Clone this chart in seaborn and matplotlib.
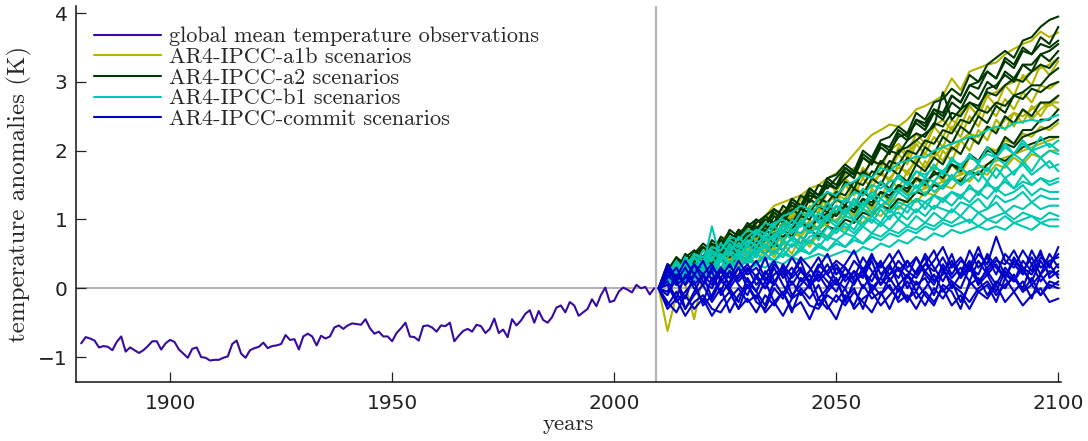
import numpy as np
import pandas as pd
import matplotlib
matplotlib.use("Agg")
import matplotlib.pyplot as plt
from matplotlib.lines import Line2D
import seaborn as sns

# ---------------- data ----------------
obs_years = list(range(1880, 2010))
obs_values = [
    -0.80, -0.71, -0.73, -0.76, -0.86, -0.84, -0.85, -0.90, -0.78, -0.70,
    -0.92, -0.86, -0.90, -0.94, -0.90, -0.84, -0.77, -0.77, -0.89, -0.80,
    -0.75, -0.78, -0.89, -0.95, -1.01, -0.88, -0.86, -1.00, -1.01, -1.05,
    -1.04, -1.04, -1.01, -0.99, -0.81, -0.76, -0.95, -1.01, -0.90, -0.87,
    -0.85, -0.79, -0.87, -0.84, -0.83, -0.81, -0.68, -0.75, -0.74, -0.89,
    -0.70, -0.66, -0.70, -0.83, -0.69, -0.73, -0.70, -0.57, -0.54, -0.59,
    -0.54, -0.51, -0.52, -0.53, -0.45, -0.58, -0.66, -0.63, -0.70, -0.70,
    -0.77, -0.65, -0.58, -0.50, -0.70, -0.71, -0.76, -0.55, -0.54, -0.57,
    -0.63, -0.54, -0.55, -0.50, -0.77, -0.69, -0.62, -0.59, -0.63, -0.53,
    -0.55, -0.65, -0.59, -0.44, -0.65, -0.60, -0.71, -0.45, -0.54, -0.47,
    -0.37, -0.32, -0.50, -0.33, -0.46, -0.50, -0.42, -0.28, -0.25, -0.35,
    -0.20, -0.25, -0.40, -0.35, -0.30, -0.16, -0.26, -0.10, 0.01, -0.20,
    -0.18, -0.05, 0.01, -0.02, -0.06, 0.05, 0.00, 0.02, -0.09, 0.00,
]

scen_years = list(range(2010, 2101, 2))

a1b_runs = [
    [0.00, 0.15, 0.30, 0.25, 0.35, 0.40, 0.50, 0.55, 0.65, 0.80,
     0.85, 0.95, 1.05, 1.20, 1.25, 1.30, 1.35, 1.45, 1.50, 1.60,
     1.67, 1.80, 1.95, 2.10, 2.23, 2.30, 2.38, 2.35, 2.45, 2.60,
     2.65, 2.72, 2.80, 3.05, 2.88, 3.15, 3.20, 3.25, 3.28, 3.40,
     3.48, 3.55, 3.60, 3.73, 3.65, 3.72],
    [0.00, -0.62, -0.10, 0.20, 0.15, 0.35, 0.30, 0.55, 0.40, 0.60,
     0.50, 0.80, 0.70, 0.90, 0.80, 1.10, 0.95, 1.20, 1.10, 1.40,
     1.25, 1.50, 1.40, 1.75, 1.60, 1.85, 1.75, 2.05, 1.90, 2.15,
     2.05, 2.35, 2.20, 2.45, 2.35, 2.65, 2.50, 2.80, 2.65, 2.95,
     2.80, 3.10, 2.95, 3.25, 3.10, 3.30],
    [0.00, 0.10, 0.25, 0.05, -0.45, 0.20, 0.40, 0.25, 0.50, 0.35,
     0.60, 0.45, 0.70, 0.55, 0.85, 0.70, 0.95, 0.80, 1.05, 0.90,
     1.20, 1.05, 1.30, 1.15, 1.45, 1.30, 1.60, 1.45, 1.70, 1.55,
     1.85, 1.70, 2.00, 1.85, 2.15, 2.00, 2.30, 2.15, 2.45, 2.30,
     2.55, 2.40, 2.65, 2.50, 2.70, 2.60],
    [0.00, 0.25, 0.45, 0.25, 0.55, 0.40, 0.65, 0.50, 0.75, 0.60,
     0.85, 0.70, 0.95, 0.80, 1.10, 0.95, 1.20, 1.05, 1.35, 1.20,
     1.45, 1.60, 1.45, 1.75, 1.60, 1.85, 1.70, 1.95, 1.80, 2.10,
     1.95, 2.20, 2.05, 2.35, 2.20, 2.50, 2.35, 2.65, 2.50, 2.75,
     2.60, 2.85, 2.70, 2.95, 2.90, 3.00],
    [0.00, 0.20, 0.10, 0.30, 0.20, 0.45, 0.30, 0.55, 0.40, 0.60,
     0.45, 0.70, 0.55, 0.80, 0.65, 0.90, 0.75, 1.00, 0.85, 1.10,
     0.95, 1.20, 1.05, 1.30, 1.15, 1.40, 1.25, 1.50, 1.35, 1.60,
     1.45, 1.70, 1.55, 1.80, 1.65, 1.90, 1.85, 2.05, 2.00, 2.15,
     2.10, 2.25, 2.20, 2.35, 2.30, 2.40],
    [0.00, 0.10, 0.30, 0.10, 0.35, 0.15, 0.40, 0.25, 0.45, 0.30,
     0.50, 0.35, 0.60, 0.45, 0.65, 0.50, 0.75, 0.60, 0.80, 0.75,
     0.90, 0.85, 1.00, 0.95, 1.10, 1.05, 1.20, 1.15, 1.30, 1.25,
     1.40, 1.35, 1.50, 1.45, 1.60, 1.55, 1.70, 1.65, 1.80, 1.75,
     1.90, 1.80, 1.95, 1.90, 2.00, 2.00],
    [0.00, 0.30, 0.15, 0.45, 0.30, 0.60, 0.45, 0.70, 0.80, 0.65,
     0.90, 0.75, 1.00, 1.10, 0.95, 1.20, 1.05, 1.30, 1.15, 1.40,
     1.25, 1.50, 1.35, 1.60, 1.45, 1.70, 1.55, 1.80, 1.65, 1.90,
     1.75, 2.00, 1.85, 2.10, 2.15, 2.25, 2.10, 2.35, 2.30, 2.50,
     2.35, 2.60, 2.45, 2.60, 2.70, 2.70],
    [0.00, 0.15, 0.40, 0.20, 0.50, 0.35, 0.60, 0.70, 0.55, 0.80,
     0.90, 0.75, 1.00, 1.10, 1.15, 1.00, 1.30, 1.40, 1.25, 1.55,
     1.40, 1.65, 1.75, 1.60, 1.90, 1.75, 2.00, 2.10, 1.95, 2.25,
     2.10, 2.35, 2.45, 2.30, 2.55, 2.65, 2.50, 2.80, 2.85, 2.95,
     3.00, 3.05, 3.15, 3.20, 3.25, 3.35],
    [0.00, 0.20, 0.05, 0.35, 0.25, 0.45, 0.40, 0.55, 0.65, 0.60,
     0.75, 0.70, 0.85, 0.95, 0.90, 1.05, 1.00, 1.15, 1.10, 1.25,
     1.35, 1.30, 1.45, 1.40, 1.55, 1.65, 1.60, 1.75, 1.70, 1.85,
     1.95, 1.90, 2.05, 2.00, 2.15, 2.25, 2.20, 2.35, 2.30, 2.45,
     2.55, 2.50, 2.60, 2.70, 2.65, 2.80],
    [0.00, 0.15, 0.30, 0.20, 0.40, 0.30, 0.50, 0.40, 0.55, 0.50,
     0.60, 0.55, 0.70, 0.65, 0.75, 0.80, 0.75, 0.90, 0.85, 0.95,
     1.00, 1.05, 1.00, 1.15, 1.10, 1.20, 1.25, 1.30, 1.25, 1.40,
     1.45, 1.50, 1.55, 1.60, 1.65, 1.70, 1.75, 1.80, 1.85, 1.90,
     1.95, 2.00, 2.05, 2.10, 2.15, 2.20],
]

a2_runs = [
    [0.00, 0.20, 0.40, 0.30, 0.55, 0.45, 0.65, 0.55, 0.80, 0.70,
     0.90, 1.00, 0.90, 1.15, 1.05, 1.30, 1.20, 1.45, 1.35, 1.60,
     1.65, 1.80, 1.70, 2.00, 1.90, 2.15, 2.20, 2.35, 2.25, 2.55,
     2.45, 2.70, 2.75, 2.90, 2.80, 3.10, 3.00, 3.25, 3.35, 3.45,
     3.35, 3.60, 3.65, 3.80, 3.90, 3.95],
    [0.00, 0.35, 0.25, 0.50, 0.40, 0.60, 0.50, 0.75, 0.65, 0.85,
     0.75, 1.00, 0.90, 1.10, 1.00, 1.25, 1.15, 1.40, 1.30, 1.55,
     1.45, 1.70, 1.60, 1.90, 1.80, 2.05, 1.95, 2.25, 2.15, 2.45,
     2.35, 2.60, 2.50, 2.80, 2.70, 2.95, 3.00, 3.15, 3.05, 3.35,
     3.25, 3.50, 3.40, 3.65, 3.55, 3.80],
    [0.00, 0.25, 0.45, 0.35, 0.50, 0.60, 0.50, 0.70, 0.60, 0.80,
     0.70, 0.90, 0.80, 1.05, 0.95, 1.15, 1.05, 1.30, 1.20, 1.40,
     1.30, 1.55, 1.45, 1.70, 1.60, 1.85, 1.75, 2.00, 2.05, 2.15,
     2.25, 2.35, 2.85, 2.45, 2.60, 2.70, 2.60, 2.90, 2.95, 3.10,
     3.00, 3.25, 3.15, 3.40, 3.45, 3.55],
    [0.00, 0.15, 0.35, 0.25, 0.45, 0.35, 0.55, 0.45, 0.65, 0.55,
     0.75, 0.65, 0.85, 0.75, 0.95, 0.85, 1.05, 1.00, 1.20, 1.10,
     1.30, 1.20, 1.45, 1.35, 1.60, 1.50, 1.75, 1.65, 1.90, 1.80,
     2.05, 1.95, 2.20, 2.10, 2.35, 2.25, 2.50, 2.40, 2.65, 2.55,
     2.80, 2.85, 2.95, 2.95, 3.10, 3.20],
    [0.00, 0.20, 0.10, 0.35, 0.25, 0.45, 0.35, 0.60, 0.50, 0.70,
     0.60, 0.80, 0.70, 0.90, 0.80, 1.00, 0.90, 1.10, 1.00, 1.20,
     1.10, 1.30, 1.20, 1.40, 1.30, 1.55, 1.45, 1.65, 1.55, 1.80,
     1.70, 1.90, 1.80, 2.05, 1.95, 2.20, 2.10, 2.35, 2.25, 2.50,
     2.40, 2.60, 2.50, 2.70, 2.70, 2.80],
    [0.00, 0.10, 0.30, 0.20, 0.40, 0.30, 0.50, 0.40, 0.60, 0.50,
     0.65, 0.55, 0.75, 0.65, 0.85, 0.75, 0.95, 0.85, 1.05, 0.95,
     1.10, 1.20, 1.10, 1.30, 1.20, 1.40, 1.30, 1.50, 1.40, 1.60,
     1.50, 1.70, 1.60, 1.80, 1.70, 1.95, 1.85, 2.05, 1.95, 2.20,
     2.10, 2.30, 2.30, 2.45, 2.45, 2.60],
    [0.00, 0.15, 0.05, 0.25, 0.15, 0.35, 0.25, 0.45, 0.30, 0.50,
     0.40, 0.60, 0.50, 0.65, 0.55, 0.75, 0.65, 0.85, 0.75, 0.90,
     0.85, 1.00, 0.95, 1.10, 1.05, 1.20, 1.15, 1.30, 1.25, 1.40,
     1.35, 1.50, 1.45, 1.60, 1.55, 1.70, 1.65, 1.80, 1.90, 1.85,
     1.95, 2.05, 2.10, 2.15, 2.20, 2.20],
    [0.00, 0.35, 0.25, 0.45, 0.55, 0.45, 0.70, 0.60, 0.85, 0.75,
     0.95, 0.85, 1.05, 1.15, 1.05, 1.30, 1.20, 1.45, 1.35, 1.60,
     1.50, 1.75, 1.65, 1.90, 1.80, 2.10, 2.00, 2.20, 2.25, 2.40,
     2.30, 2.55, 2.45, 2.70, 2.60, 2.85, 2.75, 3.00, 2.90, 3.15,
     3.05, 3.25, 3.25, 3.40, 3.30, 3.45],
    [0.00, 0.30, 0.15, 0.40, 0.50, 0.40, 0.60, 0.70, 0.60, 0.85,
     0.75, 0.95, 1.05, 0.95, 1.20, 1.10, 1.35, 1.25, 1.50, 1.45,
     1.60, 1.75, 1.65, 1.95, 1.85, 2.10, 2.05, 2.30, 2.20, 2.45,
     2.40, 2.60, 2.55, 2.80, 2.70, 2.95, 2.90, 3.15, 3.05, 3.30,
     3.20, 3.45, 3.40, 3.55, 3.50, 3.60],
    [0.00, 0.20, 0.35, 0.25, 0.45, 0.40, 0.55, 0.50, 0.70, 0.60,
     0.80, 0.75, 0.90, 0.85, 1.05, 0.95, 1.15, 1.10, 1.30, 1.25,
     1.40, 1.35, 1.55, 1.50, 1.70, 1.65, 1.85, 1.80, 2.00, 1.95,
     2.15, 2.10, 2.30, 2.25, 2.45, 2.40, 2.60, 2.55, 2.70, 2.65,
     2.80, 2.75, 2.90, 2.85, 2.95, 3.00],
    [0.00, 0.25, 0.45, 0.30, 0.50, 0.65, 0.55, 0.70, 0.65, 0.80,
     0.90, 0.85, 1.00, 0.95, 1.10, 1.20, 1.15, 1.35, 1.30, 1.50,
     1.45, 1.60, 1.70, 1.65, 1.85, 1.80, 2.00, 1.95, 2.15, 2.25,
     2.20, 2.40, 2.35, 2.55, 2.50, 2.70, 2.65, 2.85, 2.80, 2.95,
     3.05, 3.00, 3.15, 3.25, 3.20, 3.35],
    [0.00, 0.10, 0.25, 0.15, 0.30, 0.40, 0.35, 0.50, 0.45, 0.55,
     0.65, 0.60, 0.70, 0.80, 0.75, 0.85, 0.95, 0.90, 1.00, 1.10,
     1.05, 1.20, 1.15, 1.30, 1.25, 1.40, 1.35, 1.50, 1.45, 1.60,
     1.55, 1.65, 1.70, 1.80, 1.75, 1.90, 1.85, 2.00, 1.95, 2.10,
     2.05, 2.20, 2.25, 2.30, 2.35, 2.45],
]

b1_runs = [
    [0.00, 0.20, 0.35, 0.25, 0.50, 0.45, 0.60, 0.55, 0.75, 0.70,
     0.85, 0.80, 0.95, 0.90, 1.05, 1.10, 1.20, 1.15, 1.30, 1.40,
     1.35, 1.50, 1.55, 1.65, 1.60, 1.75, 1.70, 1.82, 1.85, 1.92,
     1.90, 2.00, 2.05, 2.10, 2.15, 2.20, 2.22, 2.30, 2.35, 2.32,
     2.40, 2.42, 2.45, 2.42, 2.47, 2.52],
    [0.00, 0.30, 0.15, 0.45, 0.30, 0.55, 0.40, 0.65, 0.50, 0.75,
     0.60, 0.85, 0.70, 0.90, 0.80, 1.00, 0.90, 1.15, 1.00, 1.25,
     1.10, 1.30, 1.20, 1.45, 1.30, 1.55, 1.40, 1.65, 1.50, 1.70,
     1.60, 1.80, 1.65, 1.90, 1.75, 1.95, 1.80, 2.05, 1.90, 2.10,
     1.95, 2.15, 2.00, 2.20, 2.05, 2.15],
    [0.00, 0.10, 0.35, 0.20, 0.45, 0.30, 0.90, 0.40, 0.55, 0.45,
     0.65, 0.50, 0.75, 0.60, 0.85, 0.70, 0.95, 0.80, 0.90, 1.05,
     0.95, 1.15, 1.00, 1.25, 1.10, 1.30, 1.20, 1.40, 1.30, 1.50,
     1.35, 1.55, 1.45, 1.60, 1.50, 1.70, 1.55, 1.75, 1.60, 1.80,
     1.65, 1.85, 1.70, 1.90, 1.75, 1.80],
    [0.00, 0.25, 0.10, 0.30, 0.20, 0.40, 0.30, 0.50, 0.35, 0.55,
     0.45, 0.60, 0.50, 0.70, 0.55, 0.75, 0.65, 0.85, 0.70, 0.90,
     0.80, 0.95, 0.85, 1.05, 0.95, 1.15, 1.00, 1.20, 1.10, 1.30,
     1.15, 1.35, 1.25, 1.40, 1.30, 1.50, 1.35, 1.55, 1.40, 1.60,
     1.45, 1.65, 1.50, 1.60, 1.55, 1.60],
    [0.00, 0.15, 0.30, 0.15, 0.35, 0.25, 0.45, 0.30, 0.50, 0.40,
     0.55, 0.45, 0.65, 0.50, 0.70, 0.60, 0.75, 0.65, 0.85, 0.75,
     0.90, 0.80, 1.00, 0.90, 1.05, 0.95, 1.15, 1.00, 1.20, 1.10,
     1.25, 1.15, 1.30, 1.20, 1.35, 1.25, 1.40, 1.30, 1.45, 1.35,
     1.40, 1.50, 1.35, 1.45, 1.40, 1.40],
    [0.00, 0.20, 0.05, 0.25, 0.15, 0.30, 0.20, 0.40, 0.25, 0.45,
     0.35, 0.50, 0.40, 0.55, 0.45, 0.65, 0.55, 0.70, 0.60, 0.75,
     0.70, 0.80, 0.75, 0.90, 0.80, 0.95, 0.85, 1.00, 0.90, 1.05,
     0.95, 1.10, 1.00, 1.15, 1.05, 1.20, 1.10, 1.15, 1.25, 1.10,
     1.20, 1.15, 1.25, 1.15, 1.20, 1.20],
    [0.00, 0.10, 0.25, 0.10, 0.30, 0.15, 0.35, 0.25, 0.40, 0.30,
     0.45, 0.35, 0.50, 0.40, 0.55, 0.45, 0.60, 0.50, 0.65, 0.55,
     0.70, 0.60, 0.75, 0.65, 0.80, 0.75, 0.85, 0.80, 0.90, 0.85,
     0.95, 0.90, 1.00, 0.95, 1.05, 0.95, 1.10, 1.00, 1.05, 1.10,
     1.00, 1.10, 1.05, 1.00, 1.10, 1.05],
    [0.00, 0.15, 0.05, 0.20, 0.10, 0.25, 0.15, 0.30, 0.20, 0.30,
     0.25, 0.35, 0.30, 0.40, 0.35, 0.45, 0.40, 0.45, 0.50, 0.45,
     0.50, 0.55, 0.50, 0.60, 0.55, 0.65, 0.60, 0.70, 0.65, 0.75,
     0.70, 0.80, 0.75, 0.85, 0.80, 0.85, 0.90, 0.85, 0.90, 0.85,
     0.95, 0.90, 0.85, 0.95, 0.90, 0.90],
    [0.00, 0.20, 0.40, 0.25, 0.45, 0.35, 0.55, 0.45, 0.60, 0.55,
     0.70, 0.60, 0.80, 0.70, 0.90, 0.80, 1.00, 0.90, 1.10, 1.00,
     1.20, 1.10, 1.30, 1.20, 1.40, 1.30, 1.45, 1.40, 1.55, 1.45,
     1.60, 1.55, 1.70, 1.60, 1.75, 1.65, 1.80, 1.70, 1.90, 1.80,
     1.95, 1.85, 2.00, 1.90, 2.00, 1.95],
    [0.00, 0.25, 0.15, 0.45, 0.30, 0.35, 0.55, 0.40, 0.65, 0.50,
     0.60, 0.80, 0.70, 0.75, 0.95, 0.85, 0.90, 1.10, 0.95, 1.05,
     1.20, 1.05, 1.25, 1.15, 1.35, 1.20, 1.30, 1.45, 1.35, 1.40,
     1.55, 1.40, 1.50, 1.65, 1.50, 1.60, 1.70, 1.55, 1.75, 1.60,
     1.70, 1.80, 1.65, 1.75, 1.85, 1.70],
    [0.00, 0.15, 0.25, 0.20, 0.30, 0.40, 0.25, 0.45, 0.35, 0.50,
     0.40, 0.55, 0.60, 0.50, 0.65, 0.70, 0.60, 0.75, 0.80, 0.70,
     0.85, 0.90, 0.80, 0.95, 1.00, 0.90, 1.05, 1.10, 1.00, 1.15,
     1.05, 1.20, 1.15, 1.10, 1.25, 1.20, 1.30, 1.15, 1.35, 1.25,
     1.30, 1.40, 1.25, 1.35, 1.30, 1.30],
    [0.00, 0.20, 0.35, 0.30, 0.50, 0.40, 0.60, 0.55, 0.70, 0.60,
     0.75, 0.85, 0.80, 0.95, 1.00, 0.90, 1.10, 1.05, 1.20, 1.15,
     1.30, 1.25, 1.40, 1.35, 1.50, 1.45, 1.55, 1.60, 1.50, 1.70,
     1.65, 1.75, 1.70, 1.85, 1.80, 1.90, 1.85, 1.95, 1.90, 2.05,
     1.95, 2.10, 2.00, 2.05, 2.10, 2.00],
    [0.00, 0.05, 0.20, 0.10, 0.25, 0.20, 0.30, 0.25, 0.35, 0.30,
     0.40, 0.35, 0.45, 0.40, 0.50, 0.45, 0.55, 0.50, 0.60, 0.55,
     0.65, 0.60, 0.70, 0.65, 0.75, 0.70, 0.80, 0.75, 0.85, 0.80,
     0.90, 0.85, 0.95, 0.90, 0.95, 1.00, 0.90, 1.00, 0.95, 1.05,
     0.95, 1.00, 1.05, 0.95, 1.00, 1.00],
    [0.00, 0.30, 0.20, 0.35, 0.45, 0.30, 0.50, 0.45, 0.55, 0.65,
     0.50, 0.70, 0.60, 0.80, 0.70, 0.85, 0.80, 0.95, 0.85, 1.00,
     0.90, 1.05, 1.00, 1.15, 1.05, 1.20, 1.10, 1.25, 1.20, 1.30,
     1.25, 1.35, 1.30, 1.40, 1.35, 1.45, 1.40, 1.50, 1.45, 1.55,
     1.45, 1.55, 1.50, 1.60, 1.50, 1.55],
]

commit_runs = [
    [0.00, 0.25, 0.10, 0.30, 0.05, 0.20, 0.35, 0.10, 0.25, 0.15,
     0.30, 0.05, 0.20, 0.40, 0.15, 0.30, 0.10, 0.25, 0.45, 0.20,
     0.35, 0.15, 0.40, 0.25, 0.50, 0.20, 0.35, 0.55, 0.30, 0.45,
     0.25, 0.40, 0.60, 0.30, 0.45, 0.25, 0.50, 0.35, 0.75, 0.40,
     0.30, 0.55, 0.35, 0.50, 0.30, 0.60],
    [0.00, -0.20, -0.35, -0.10, -0.30, -0.15, -0.40, -0.20, -0.05, -0.30,
     -0.15, -0.35, -0.10, -0.25, -0.05, -0.30, -0.20, -0.45, -0.15, -0.30,
     -0.10, -0.25, -0.05, -0.20, -0.35, -0.10, 0.05, -0.20, -0.10, -0.30,
     -0.05, -0.20, 0.00, -0.25, -0.10, -0.30, -0.05, -0.15, 0.05, -0.20,
     -0.05, -0.25, -0.10, 0.00, -0.20, -0.15],
    [0.00, 0.10, -0.15, 0.20, 0.00, -0.20, 0.15, -0.05, 0.25, 0.05,
     -0.10, 0.20, 0.00, 0.30, 0.05, -0.15, 0.15, 0.00, 0.25, 0.10,
     -0.05, 0.20, 0.05, 0.30, 0.00, 0.15, 0.35, 0.05, 0.20, -0.05,
     0.25, 0.10, 0.30, 0.00, 0.20, 0.40, 0.10, 0.25, 0.05, 0.30,
     0.15, 0.00, 0.35, 0.10, 0.25, 0.20],
    [0.00, -0.05, 0.20, 0.05, 0.35, 0.10, 0.00, 0.25, 0.05, 0.30,
     0.10, -0.05, 0.25, 0.05, 0.35, 0.15, 0.30, 0.05, 0.20, 0.00,
     0.30, 0.10, 0.25, 0.00, 0.20, 0.40, 0.10, 0.30, 0.15, 0.45,
     0.20, 0.05, 0.35, 0.15, 0.30, 0.10, 0.40, 0.20, 0.35, 0.15,
     0.45, 0.25, 0.10, 0.40, 0.20, 0.35],
    [0.00, -0.25, -0.05, -0.30, -0.10, 0.05, -0.20, 0.00, -0.35, -0.10,
     0.05, -0.20, -0.30, 0.00, -0.15, 0.10, -0.10, 0.05, -0.25, -0.05,
     0.10, -0.15, 0.00, -0.30, 0.05, -0.10, 0.15, -0.05, 0.10, -0.15,
     0.00, 0.20, -0.05, 0.10, -0.20, 0.05, 0.15, -0.10, 0.10, 0.00,
     0.20, -0.05, 0.15, -0.10, 0.05, 0.00],
    [0.00, 0.15, 0.30, 0.05, 0.20, 0.40, 0.10, 0.30, 0.00, 0.20,
     0.35, 0.15, 0.00, 0.20, 0.30, 0.05, 0.25, 0.10, 0.35, 0.20,
     0.05, 0.30, 0.15, 0.45, 0.25, 0.05, 0.30, 0.15, 0.40, 0.20,
     0.50, 0.30, 0.10, 0.35, 0.20, 0.55, 0.30, 0.45, 0.20, 0.50,
     0.35, 0.20, 0.55, 0.30, 0.40, 0.45],
    [0.00, 0.05, -0.20, -0.05, 0.10, -0.25, -0.10, 0.15, -0.05, -0.30,
     0.05, -0.15, 0.10, -0.20, -0.05, -0.35, 0.00, -0.15, 0.05, -0.25,
     -0.45, -0.10, -0.25, 0.05, -0.15, -0.05, -0.30, 0.00, -0.20, 0.10,
     -0.10, -0.25, 0.05, -0.05, -0.30, 0.10, -0.05, 0.05, -0.20, 0.15,
     -0.05, 0.10, -0.15, 0.20, 0.00, 0.10],
    [0.00, 0.20, 0.05, 0.15, 0.35, 0.20, 0.05, 0.30, 0.15, 0.40,
     0.20, 0.30, 0.10, 0.35, 0.20, 0.45, 0.25, 0.10, 0.30, 0.50,
     0.20, 0.35, 0.55, 0.25, 0.10, 0.35, 0.20, 0.40, 0.25, 0.15,
     0.35, 0.55, 0.25, 0.40, 0.15, 0.30, 0.20, 0.50, 0.30, 0.15,
     0.40, 0.25, 0.45, 0.20, 0.50, 0.30],
    [0.00, 0.30, 0.10, -0.15, 0.20, 0.05, 0.25, -0.10, 0.10, 0.30,
     0.00, 0.15, 0.45, 0.10, -0.10, 0.20, 0.40, 0.05, 0.15, 0.35,
     0.10, 0.00, 0.25, 0.15, 0.40, 0.05, 0.20, 0.30, 0.00, 0.25,
     0.45, 0.10, 0.20, 0.50, 0.15, 0.35, 0.05, 0.30, 0.45, 0.20,
     0.10, 0.40, 0.25, 0.55, 0.15, 0.25],
    [0.00, -0.10, 0.15, -0.30, -0.05, 0.20, -0.15, 0.10, 0.00, -0.20,
     0.15, -0.05, -0.25, 0.10, 0.25, -0.10, 0.05, 0.20, -0.15, 0.00,
     0.15, -0.20, 0.10, 0.25, -0.05, 0.15, 0.00, -0.15, 0.20, 0.05,
     0.15, -0.10, 0.25, 0.10, 0.00, 0.30, 0.05, 0.20, -0.05, 0.25,
     0.10, 0.30, 0.05, 0.20, 0.35, 0.15],
    [0.00, 0.35, 0.15, 0.40, 0.20, 0.05, 0.30, 0.15, 0.35, 0.10,
     0.25, 0.40, 0.15, 0.05, 0.30, 0.20, 0.45, 0.30, 0.10, 0.25,
     0.40, 0.30, 0.10, 0.20, 0.45, 0.30, 0.50, 0.25, 0.40, 0.20,
     0.35, 0.25, 0.45, 0.20, 0.40, 0.30, 0.60, 0.25, 0.40, 0.35,
     0.55, 0.30, 0.20, 0.45, 0.35, 0.50],
    [0.00, -0.30, -0.15, -0.40, -0.20, -0.10, -0.30, -0.35, -0.15, 0.00,
     -0.20, -0.10, -0.35, -0.20, -0.40, -0.15, -0.05, -0.25, -0.30, -0.10,
     -0.20, 0.00, -0.30, -0.15, -0.05, -0.25, -0.10, 0.05, -0.15, -0.05,
     -0.25, 0.00, -0.15, 0.05, -0.05, -0.20, 0.00, 0.10, -0.10, 0.05,
     0.15, -0.05, 0.05, -0.10, 0.10, 0.05],
]

labels = [
    "global mean temperature observations",
    "AR4-IPCC-a1b scenarios",
    "AR4-IPCC-a2 scenarios",
    "AR4-IPCC-b1 scenarios",
    "AR4-IPCC-commit scenarios",
]
colors = ["#370aa0", "#b4b400", "#003700", "#00c8b0", "#0000c8"]

# ---------------- style ----------------
sns.set_style("ticks")
plt.rcParams["font.family"] = ["DejaVu Sans"]
serif = ["cmr10", "DejaVu Serif"]

fig = plt.figure(figsize=(10.88, 4.41), dpi=100)
ax = fig.add_axes([0.0696, 0.1338, 0.9056, 0.8533])

ax.axhline(0, color="#aaaaaa", lw=1.3, zorder=0)
ax.axvline(2009.5, color="#b4b4b4", lw=1.6, zorder=0)

lw = 1.5
obs_df = pd.DataFrame({"year": obs_years, "value": obs_values})
sns.lineplot(data=obs_df, x="year", y="value", color=colors[0], lw=lw, ax=ax, zorder=3)


def runs_frame(runs):
    rows = []
    for i, r in enumerate(runs):
        for y, v in zip(scen_years, r):
            rows.append((i, y, v))
    return pd.DataFrame(rows, columns=["run", "year", "value"])


for runs, col in [(a1b_runs, colors[1]), (a2_runs, colors[2]),
                  (b1_runs, colors[3]), (commit_runs, colors[4])]:
    sns.lineplot(data=runs_frame(runs), x="year", y="value", units="run",
                 estimator=None, color=col, lw=lw, ax=ax, zorder=3)

ax.set_xlim(1878.76, 2100.6)
ax.set_ylim(-1.362, 4.107)
ax.set_xticks([1900, 1950, 2000, 2050, 2100])
ax.set_yticks([-1, 0, 1, 2, 3, 4])
ax.set_yticklabels(["\u22121", "0", "1", "2", "3", "4"])
ax.tick_params(direction="in", length=7, width=0.9, labelsize=14.5,
               colors="#222222")
ax.tick_params(axis="x", pad=9)
ax.tick_params(axis="y", pad=6)
for s in ["top", "right"]:
    ax.spines[s].set_visible(False)
for s in ["left", "bottom"]:
    ax.spines[s].set_linewidth(1.1)
    ax.spines[s].set_color("#111111")

ax.set_xlabel("years", fontfamily=serif, fontsize=16.5, labelpad=1)
ax.set_ylabel("temperature anomalies (K)", fontfamily=serif, fontsize=18, labelpad=4)

handles = [Line2D([0], [0], color=c, lw=lw) for c in colors]
leg = ax.legend(handles, labels, loc="upper left", bbox_to_anchor=(0.003, 0.985),
                frameon=False, handlelength=3.0, handletextpad=0.35,
                labelspacing=0.05, borderaxespad=0.3,
                prop={"family": serif, "size": 16})

fig.savefig("out.png", dpi=100)
